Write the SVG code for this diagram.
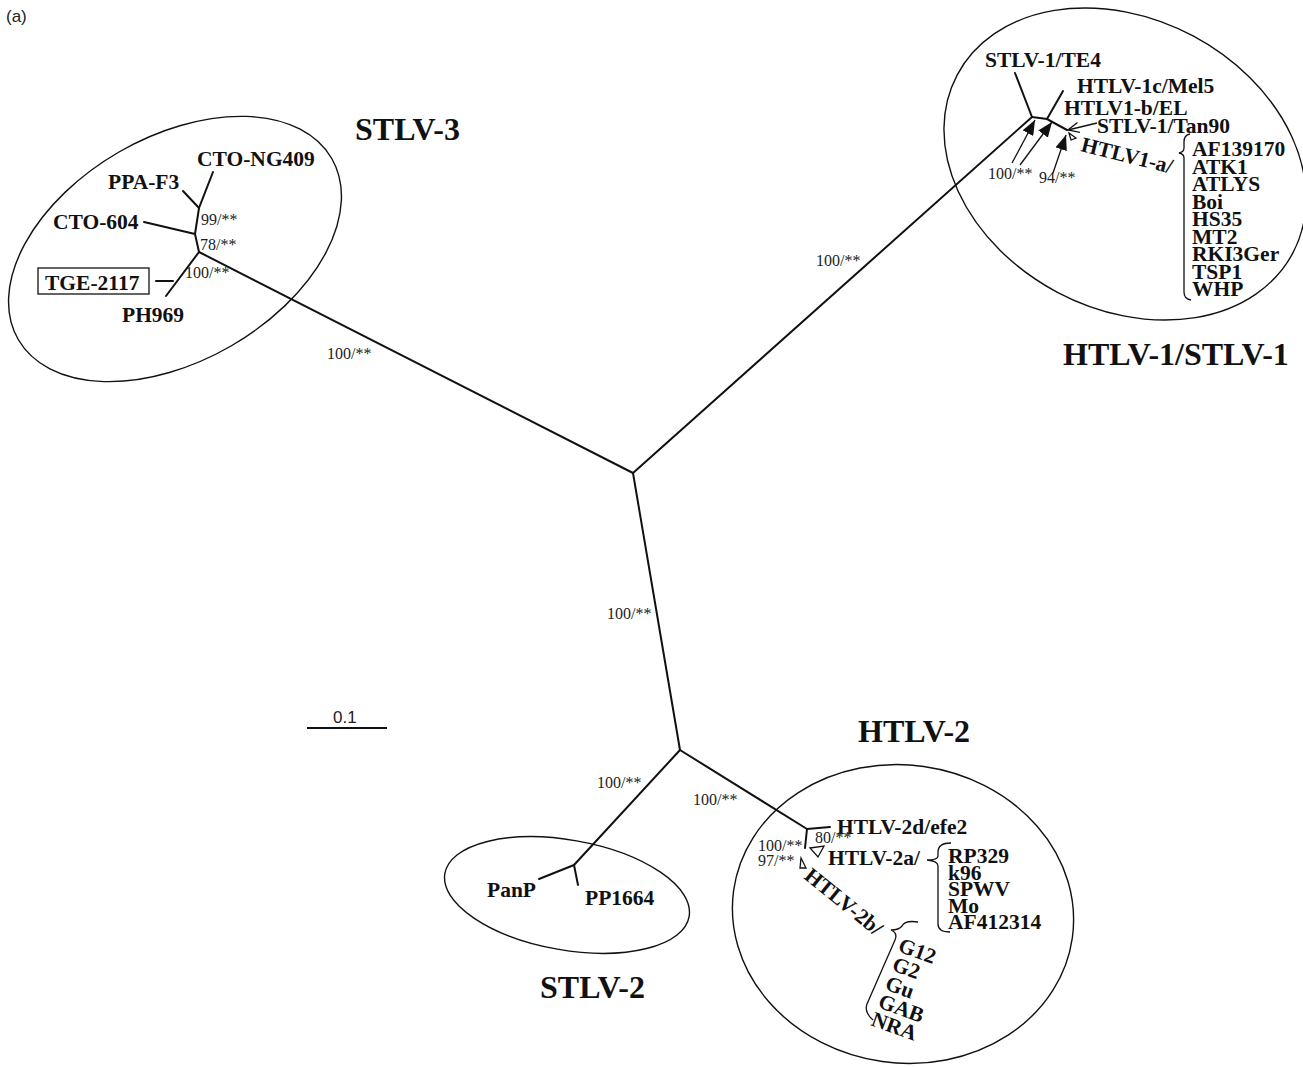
<svg xmlns="http://www.w3.org/2000/svg" width="1303" height="1067" viewBox="0 0 1303 1067">
<style>
.br{stroke:#111;stroke-width:2;fill:none;stroke-linecap:round}
.th{stroke:#111;stroke-width:1.3;fill:none}
.el{stroke:#111;stroke-width:1.4;fill:none}
.lb{font-family:"Liberation Serif","Times New Roman",serif;font-weight:bold;font-size:21.5px;fill:#111}
.bs{font-family:"Liberation Serif","Times New Roman",serif;font-size:16px;fill:#222}
.gp{font-family:"Liberation Serif","Times New Roman",serif;font-weight:bold;font-size:32px;fill:#111}
.sn{font-family:"Liberation Sans",Arial,sans-serif;font-size:17px;fill:#222}
</style>
<defs>
<marker id="fa" markerUnits="userSpaceOnUse" markerWidth="16" markerHeight="12" refX="15" refY="6" orient="auto"><path d="M0,0 L15,6 L0,12 z" fill="#111"/></marker>
<marker id="ov" markerUnits="userSpaceOnUse" markerWidth="12" markerHeight="12" refX="11" refY="6" orient="auto"><path d="M0,1 L11,6 L0,11" fill="none" stroke="#111" stroke-width="1.3"/></marker>
</defs>
<rect width="1303" height="1067" fill="#fff"/>
<text class="sn" x="6" y="22" font-size="16">(a)</text>

<g id="ellipses">
<ellipse id="e-stlv3" class="el" cx="175" cy="249" rx="181" ry="112" transform="rotate(-30 175 249)"/>
<ellipse id="e-htlv1" class="el" cx="1125" cy="164" rx="190" ry="145" transform="rotate(28 1125 164)"/>
<ellipse id="e-stlv2" class="el" cx="567" cy="895" rx="124" ry="55" transform="rotate(10 567 895)"/>
<ellipse id="e-htlv2" class="el" cx="903" cy="914" rx="171" ry="149" transform="rotate(8 903 914)"/>
</g>

<g id="connectors">
<path class="br" d="M633,473 L199,252"/>
<path class="br" d="M633,473 L1032,117"/>
<path class="br" d="M633,473 L680,750"/>
<path class="br" d="M680,750 L574,865"/>
<path class="br" d="M680,750 L807,829"/>
<path class="br" d="M199,252 L195,234 L199,208 L213,172"/>
<path class="br" d="M199,208 L183,191"/>
<path class="br" d="M195,234 L144,222"/>
<path class="br" d="M199,252 L166,296"/>
<path class="br" d="M156,281 L173,281"/>
<path class="br" d="M574,865 L539,879"/>
<path class="br" d="M574,865 L578,885"/>
<path class="br" d="M1032,117 L1047,119 L1067,130"/>
<path class="br" d="M1032,117 L1015,73"/>
<path class="br" d="M1047,119 L1063,91"/>
<path class="th" d="M1097,123 L1068,130" marker-end="url(#ov)"/>
<path class="th" d="M1069,133 L1076,138 L1071,140 z"/>
<path class="th" d="M1012,163 L1035,120" marker-end="url(#fa)"/>
<path class="th" d="M1020,165 L1052,122" marker-end="url(#fa)"/>
<path class="th" d="M1053,173 L1066,135" marker-end="url(#fa)"/>
<path class="th" d="M1190,134 Q1184,135 1184,142 L1184,148 Q1184,152 1179,153 Q1184,154 1184,158 L1184,292 Q1184,299 1191,300"/>
<path class="br" d="M807,829 L830,827"/>
<path class="br" d="M807,829 L805,848"/>
<path class="th" d="M810,848 L824,846 L818,857 z"/>
<path class="th" d="M801,858 L806,868 L800,868 z"/>
<path class="th" d="M951,843 Q938,843 938,852 L938,856 Q938,860 927,860 Q938,861 938,866 L938,924 Q938,932 950,932"/>
<path class="th" d="M918,922 Q905,920 902,926 Q899,930 891,930 Q898,933 895,940 L867,1004 Q864,1012 873,1020"/>
</g>

<g id="scale">
<path d="M307,728 L387,728" stroke="#111" stroke-width="2"/>
<text class="sn" x="333" y="723">0.1</text>
</g>

<g id="stlv3">
<text class="gp" x="355" y="140">STLV-3</text>
<text class="lb" x="197" y="166">CTO-NG409</text>
<text class="lb" x="108" y="189">PPA-F3</text>
<text class="lb" x="53" y="229">CTO-604</text>
<rect x="38" y="268" width="111" height="26" fill="none" stroke="#111" stroke-width="1.3"/>
<text class="lb" x="45" y="290">TGE-2117</text>
<text class="lb" x="122" y="322">PH969</text>
<text class="bs" x="201" y="225">99/**</text>
<text class="bs" x="200" y="250">78/**</text>
<text class="bs" x="185" y="278">100/**</text>
</g>

<g id="htlv1">
<text class="gp" x="1063" y="365">HTLV-1/STLV-1</text>
<text class="lb" x="985" y="67">STLV-1/TE4</text>
<text class="lb" x="1077" y="93">HTLV-1c/Mel5</text>
<text class="lb" x="1064" y="115">HTLV1-b/EL</text>
<text class="lb" x="1097" y="133">STLV-1/Tan90</text>
<text class="lb" transform="translate(1080,151) rotate(14)">HTLV1-a/</text>
<text class="bs" x="988" y="179">100/**</text>
<text class="bs" x="1039" y="183">94/**</text>
<text class="lb" x="1192" y="156">AF139170</text>
<text class="lb" x="1192" y="173.5">ATK1</text>
<text class="lb" x="1192" y="191">ATLYS</text>
<text class="lb" x="1192" y="208.5">Boi</text>
<text class="lb" x="1192" y="226">HS35</text>
<text class="lb" x="1192" y="243.5">MT2</text>
<text class="lb" x="1192" y="261">RKI3Ger</text>
<text class="lb" x="1192" y="278.5">TSP1</text>
<text class="lb" x="1192" y="296">WHP</text>
</g>

<g id="main-bootstrap">
<text class="bs" x="327" y="359">100/**</text>
<text class="bs" x="816" y="266">100/**</text>
<text class="bs" x="607" y="619">100/**</text>
<text class="bs" x="597" y="788">100/**</text>
<text class="bs" x="693" y="805">100/**</text>
</g>

<g id="stlv2">
<text class="gp" x="540" y="998">STLV-2</text>
<text class="lb" x="487" y="897">PanP</text>
<text class="lb" x="585" y="905">PP1664</text>
</g>

<g id="htlv2">
<text class="gp" x="858" y="742">HTLV-2</text>
<text class="lb" x="837" y="834">HTLV-2d/efe2</text>
<text class="bs" x="815" y="843">80/**</text>
<text class="bs" x="758" y="851">100/**</text>
<text class="bs" x="758" y="866">97/**</text>
<text class="lb" x="828" y="865">HTLV-2a/</text>
<text class="lb" x="948" y="863">RP329</text>
<text class="lb" x="948" y="879.5">k96</text>
<text class="lb" x="948" y="896">SPWV</text>
<text class="lb" x="948" y="912.5">Mo</text>
<text class="lb" x="948" y="929">AF412314</text>
<text class="lb" transform="translate(803,878) rotate(39)">HTLV-2b/</text>
<text class="lb" transform="translate(897,951) rotate(20)">G12</text>
<text class="lb" transform="translate(891,970) rotate(20)">G2</text>
<text class="lb" transform="translate(884,989) rotate(20)">Gu</text>
<text class="lb" transform="translate(877,1007) rotate(20)">GAB</text>
<text class="lb" transform="translate(870,1025) rotate(20)">NRA</text>
</g>
</svg>
